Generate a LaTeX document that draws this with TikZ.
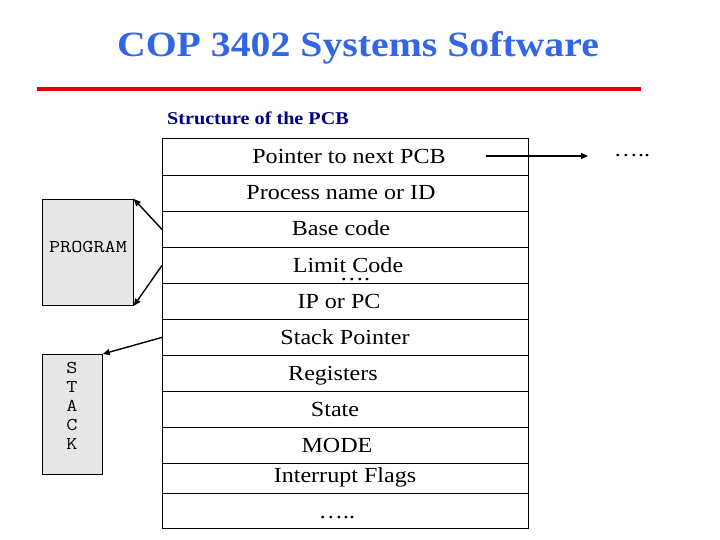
\documentclass[tikz,border=0pt]{standalone}
\usepackage{fontspec}
\setmainfont[FakeStretch=1.12]{Liberation Serif}
\newfontfamily\boxfont[FakeStretch=1.2]{Latin Modern Mono}
\usetikzlibrary{arrows.meta}
\definecolor{titleblue}{RGB}{51,102,230}
\definecolor{subnavy}{RGB}{0,0,128}
\definecolor{rulered}{RGB}{225,0,0}
\definecolor{memgray}{RGB}{230,230,230}

\begin{document}
\begin{tikzpicture}[x=1pt, y=-1pt,
      cell/.style={draw, line width=0.8pt, minimum width=366pt, inner sep=0pt,
                   anchor=north west},
      field/.style={anchor=base, inner sep=0pt, font=\fontsize{21.5}{24}\selectfont},
      memory/.style={draw, fill=memgray, line width=0.8pt, inner sep=0pt,
                     anchor=north west},
      memtext/.style={inner sep=0pt, align=center,
                      font=\boxfont\fontsize{18}{19}\selectfont},
      arrow/.style={-{Triangle[length=7pt, width=6pt]}, line width=1.4pt}]
    \useasboundingbox (0,0) rectangle (720,540);

    % heading
    \node[anchor=base, inner sep=0pt, text=titleblue,
          font=\bfseries\fontsize{35.5}{40}\selectfont] (title) at (358,57)
          {COP 3402 Systems Software};
    \coordinate (ruleL) at (37,89);
    \coordinate (ruleR) at (641,89);
    \draw[rulered, line width=3.5pt] (ruleL) -- (ruleR);
    \node[anchor=base, inner sep=0pt, text=subnavy,
          font=\bfseries\fontsize{18}{20}\selectfont] (subtitle) at (258,125)
          {Structure of the PCB};

    % PCB rows
    \foreach \name/\top/\h in {r1/138/37, r2/175/36, r3/211/36, r4/247/36,
        r5/283/36, r6/319/36, r7/355/36, r8/391/36, r9/427/36, r10/463/30,
        r11/493/35}
      \node[cell, minimum height=\h pt] (\name) at (162,\top) {};

    \node[field] (next) at (349,164) {Pointer to next PCB};
    \node[field] (pid) at (341,200) {Process name or ID};
    \node[field] (base) at (341,236) {Base code};
    \node[field] (limit) at (348,272) {Limit Code};
    \node[field] (limitdots) at (355,280) {\dots.};
    \node[field] (ippc) at (339,308) {IP or PC};
    \node[field] (sp) at (345,344) {Stack Pointer};
    \node[field] (regs) at (333,380) {Registers};
    \node[field] (state) at (335,416) {State};
    \node[field] (mode) at (337,452) {MODE};
    \node[field] (flags) at (345,482) {Interrupt Flags};
    \node[field] (more) at (337,518) {\dots..};

    % next PCB
    \coordinate (nextA) at (486,156);
    \coordinate (nextB) at (588,156);
    \node[field] (chain) at (632,157) {\dots..};
    \draw[arrow] (nextA) -- (nextB);

    % memory areas
    \node[memory, minimum width=91pt, minimum height=106pt] (program) at (42,199) {};
    \node[memtext] (progtext) at (88,247) {PROGRAM};
    \node[memory, minimum width=60pt, minimum height=120pt] (stack) at (42,354) {};
    \node[memtext] (stacktext) at (72,406) {S\\T\\A\\C\\K};

    \draw[arrow] (r3.west) -- (program.north east);
    \draw[arrow] (r4.west) -- (program.south east);
    \draw[arrow] (r6.west) -- (stack.north east);
  \end{tikzpicture}
\end{document}
